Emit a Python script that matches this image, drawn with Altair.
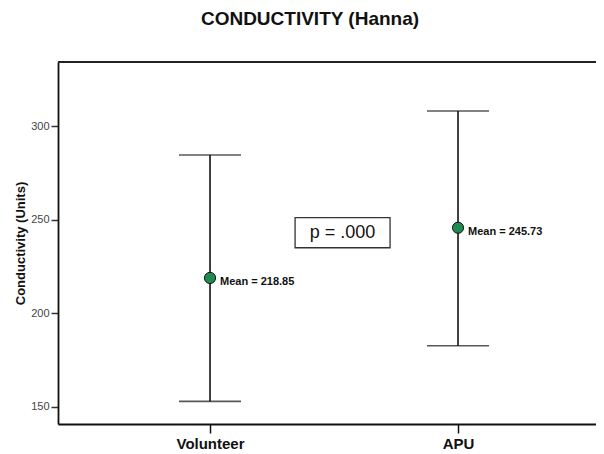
import altair as alt
import pandas as pd

categories = ["Volunteer", "APU"]
positions = [1, 2]
means = [218.85, 245.73]
upper = [284.6, 308.2]
lower = [152.8, 182.6]
mean_labels = ["Mean = 218.85", "Mean = 245.73"]

p_text = ["p = .000"]
p_box_x = [1.343]
p_box_x2 = [1.726]
p_box_y = [235.0]
p_box_y2 = [251.1]

y_ticks = [150, 200, 250, 300]
y_domain = [140.7, 334.4]
x_domain = [0.387, 2.5564]

df = pd.DataFrame({
    "cat": categories, "pos": positions, "mean": means,
    "upper": upper, "lower": lower, "label": mean_labels,
})
pdf = pd.DataFrame({
    "text": p_text, "x": p_box_x, "x2": p_box_x2, "y": p_box_y, "y2": p_box_y2,
    "xm": [(a + b) / 2 for a, b in zip(p_box_x, p_box_x2)],
    "ym": [(a + b) / 2 for a, b in zip(p_box_y, p_box_y2)],
})

FONT = "Liberation Sans"
label_expr = " : ".join(
    [f"datum.value == {p} ? '{c}'" for p, c in zip(positions, categories)]
) + " : ''"

xscale = alt.Scale(domain=x_domain, nice=False, zero=False)
yscale = alt.Scale(domain=y_domain, nice=False, zero=False)

x_axis = alt.Axis(
    values=positions, labelExpr=label_expr, title=None, grid=False,
    labelFont=FONT, labelFontSize=15, labelFontWeight="bold", labelColor="#111",
    tickColor="#111", tickSize=9, tickWidth=1.5, domainColor="#111",
    domainWidth=1.8, labelPadding=3,
)
y_axis = alt.Axis(
    values=y_ticks, title="Conductivity (Units)", grid=False,
    titleFont=FONT, titleFontSize=13, titleFontWeight="bold", titleColor="#111",
    labelFont=FONT, labelFontSize=11, labelColor="#444", tickColor="#333",
    tickSize=7, tickWidth=1.5, domainColor="#111", domainWidth=1.8,
    labelPadding=2, titlePadding=3,
)

base = alt.Chart(df)

rules = base.mark_rule(color="#111", strokeWidth=1.6).encode(
    x=alt.X("pos:Q", scale=xscale, axis=x_axis),
    y=alt.Y("lower:Q", scale=yscale, axis=y_axis),
    y2="upper:Q",
)
cap_up = base.mark_tick(color="#111", thickness=1.6, size=62, orient="horizontal").encode(
    x=alt.X("pos:Q", scale=xscale), y=alt.Y("upper:Q", scale=yscale)
)
cap_lo = base.mark_tick(color="#111", thickness=1.6, size=62, orient="horizontal").encode(
    x=alt.X("pos:Q", scale=xscale), y=alt.Y("lower:Q", scale=yscale)
)
pts = base.mark_point(filled=True, fill="#1e8c4e", stroke="#111", strokeWidth=1,
                      size=125, opacity=1, shape="circle").encode(
    x=alt.X("pos:Q", scale=xscale), y=alt.Y("mean:Q", scale=yscale)
)
lbls = base.mark_text(align="left", baseline="middle", dx=10, dy=4, font=FONT,
                      fontSize=11, fontWeight="bold", color="#111").encode(
    x=alt.X("pos:Q", scale=xscale), y=alt.Y("mean:Q", scale=yscale), text="label:N"
)
top_line = alt.Chart(pd.DataFrame({"v": [y_domain[1]]})).mark_rule(
    color="#222", strokeWidth=1.8
).encode(y=alt.Y("v:Q", scale=yscale))

pbase = alt.Chart(pdf)
pbox = pbase.mark_rect(fill="white", stroke="#333", strokeWidth=1.3).encode(
    x=alt.X("x:Q", scale=xscale), x2="x2:Q",
    y=alt.Y("y:Q", scale=yscale), y2="y2:Q",
)
ptxt = pbase.mark_text(font=FONT, fontSize=18, color="#111", baseline="middle").encode(
    x=alt.X("xm:Q", scale=xscale), y=alt.Y("ym:Q", scale=yscale), text="text:N"
)

chart = alt.layer(top_line, rules, cap_up, cap_lo, pts, lbls, pbox, ptxt).properties(
    width=538, height=362,
    title=alt.TitleParams("CONDUCTIVITY (Hanna)", font=FONT, fontSize=19,
                          fontWeight="bold", color="#111", dx=-17, offset=32),
    autosize=alt.AutoSizeParams(type="none"),
    padding={"left": 50, "top": 54, "right": 0, "bottom": 32},
).configure_view(strokeWidth=0).configure(background="white")

chart.save("out.html", embed_options={"renderer": "svg", "actions": False})
